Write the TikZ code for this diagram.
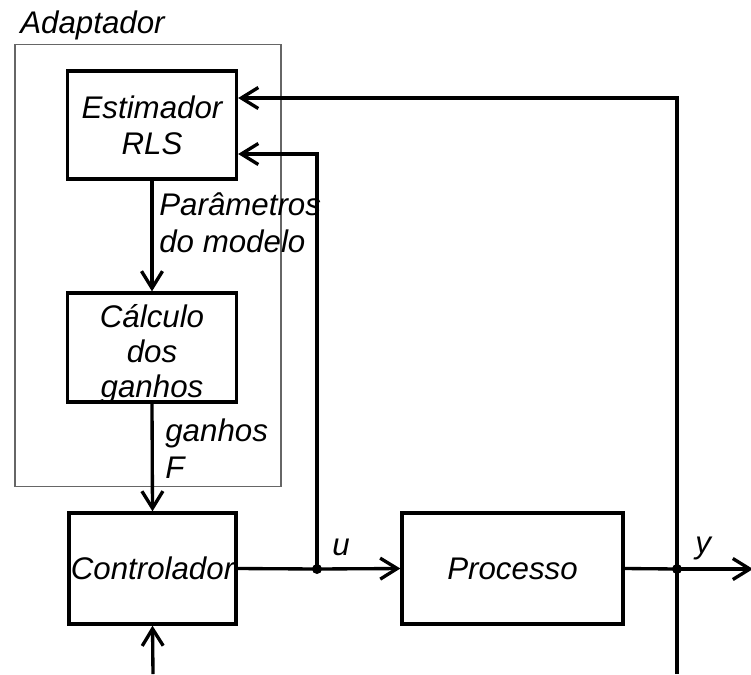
\documentclass[tikz,border=0pt]{standalone}
\usepackage{fontspec}
\setmainfont{Liberation Sans}
\usetikzlibrary{arrows.meta, positioning}
\tikzstyle{block} = [rectangle, draw=black, line width=1.9pt, inner sep=0pt,
    align=center, font=\fontsize{17.8}{20.5}\selectfont\itshape]
\tikzstyle{blocktext} = [inner sep=0pt, align=center,
    font=\fontsize{17.8}{20}\selectfont\itshape]
\tikzstyle{frame} = [rectangle, draw=black!60, line width=0.6pt, inner sep=0pt]
\tikzstyle{sigtext} = [inner sep=0pt, align=left,
    font=\fontsize{17.8}{20.5}\selectfont\itshape]
\tikzstyle{wire} = [line width=1.9pt]
\tikzstyle{arrow} = [wire, -{Straight Barb[length=0.34cm, width=0.42cm]}]
\tikzstyle{junct} = [circle, fill=black, inner sep=0pt, minimum size=0.2cm]

\begin{document}
\begin{tikzpicture}[x=0.02cm, y=-0.02cm]
            \useasboundingbox (0,0) rectangle (751,674);
            % Adaptador
            \node[frame, minimum width=5.32cm, minimum height=8.86cm] (adapt) at (148,265.5) {};
            \node[sigtext, anchor=base west] (adaptlbl) at (20,33) {Adaptador};
            % Blocks
            \node[block, minimum width=3.38cm, minimum height=2.16cm] (est) at (152,125) {Estimador\\RLS};
            \node[block, minimum width=3.38cm, minimum height=2.18cm,
                label={[blocktext, yshift=-0.13cm]center:{C\'alculo\\dos\\ganhos}}] (calc) at (152,347.5) {};
            \node[block, minimum width=3.34cm, minimum height=2.22cm] (ctrl) at (152.5,568.5) {Controlador};
            \node[block, minimum width=4.42cm, minimum height=2.22cm] (proc) at (512.5,568.5) {Processo};
            % Signals
            \node[sigtext, anchor=base west] (param) at (159,252) {Par\^ametros\\do modelo};
            \node[sigtext, anchor=base west] (gains) at (165,478) {ganhos\\F};
            \node[junct] (ju) at (317,569) {};
            \node[junct, minimum width=0.16cm, minimum height=0.2cm] (jy) at (677,569) {};
            \node[sigtext, anchor=base west] (ulbl) at (332,555) {u};
            \node[sigtext, anchor=base west] (ylbl) at (695,553) {y};
            \coordinate (ref) at (153,674);
            \coordinate (ybot) at (677,674);
            \coordinate (yout) at (753,569);
            % Arrows
            \draw[arrow] (est.south) -- (calc.north);
            \draw[arrow] (calc.south) -- (ctrl.north);
            \draw[arrow] (ref) -- (ctrl.south);
            \draw[wire] (ctrl.east) -- (ju.center);
            \draw[arrow] (ju.center) -- (proc.west);
            \draw[arrow] (ju.center) |- ([yshift=-0.58cm]est.east);
            \draw[wire] (proc.east) -- (jy.center);
            \draw[arrow] (jy.center) -- (yout);
            \draw[arrow] (ybot) |- ([yshift=0.54cm]est.east);
        \end{tikzpicture}
\end{document}
